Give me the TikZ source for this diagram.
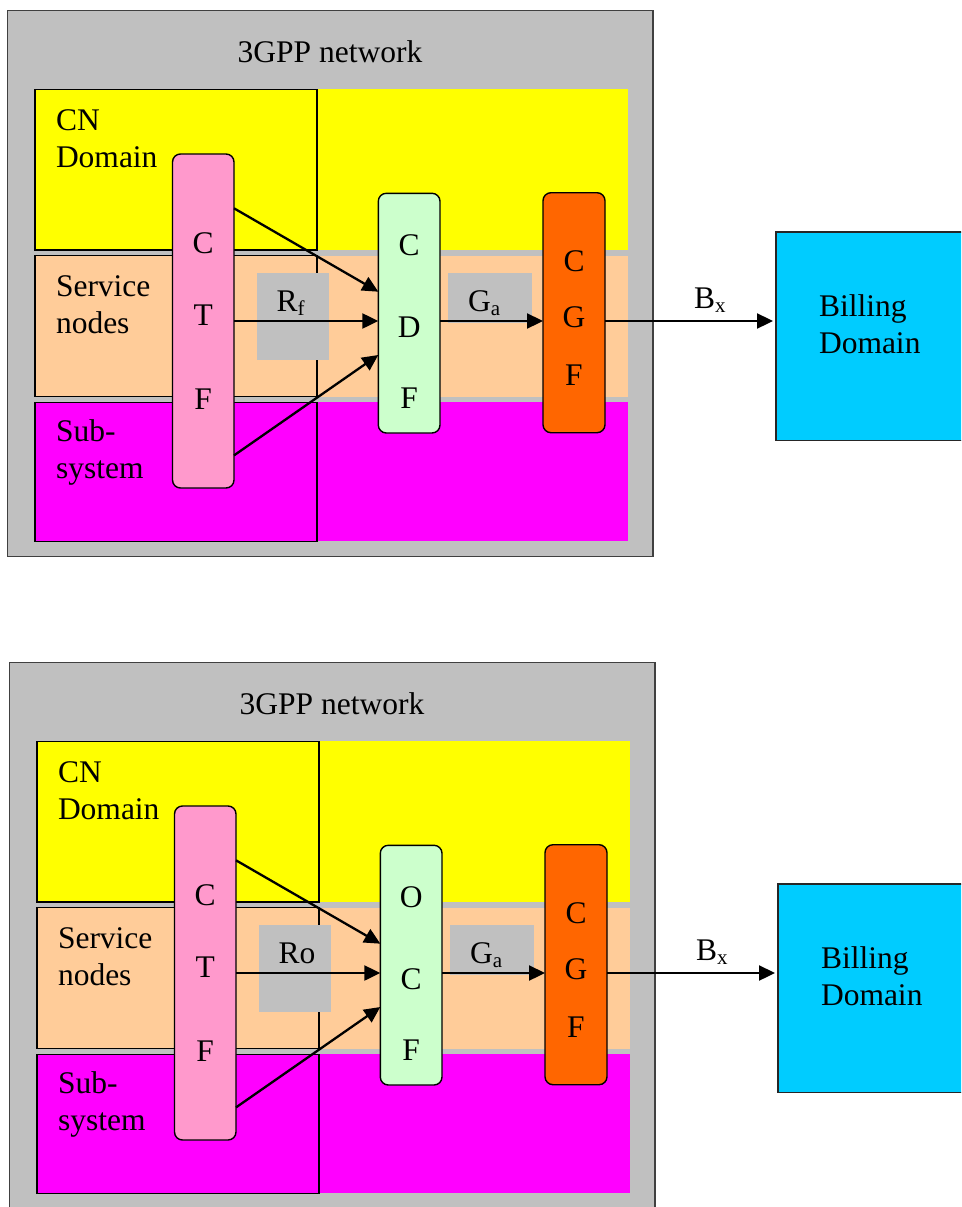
\documentclass[tikz,border=0pt]{standalone}
\usepackage{fontspec}
\setmainfont{Liberation Serif}
\usetikzlibrary{arrows.meta,calc}
\definecolor{netgray}{HTML}{C0C0C0}
\definecolor{cnyellow}{HTML}{FFFF00}
\definecolor{svcpeach}{HTML}{FFCC99}
\definecolor{submag}{HTML}{FF00FF}
\definecolor{ctfpink}{HTML}{FF99CC}
\definecolor{cdfgreen}{HTML}{CCFFCC}
\definecolor{cgforange}{HTML}{FF6600}
\definecolor{billcyan}{HTML}{00CCFF}
\newcommand\bigfont{\fontsize{31.5}{37}\selectfont}
\newcommand\subfont{\fontsize{21}{21}\selectfont}
\newcommand\subtxt[1]{\raisebox{-4pt}{\subfont #1}}
\tikzset{
  px/.style={x=1pt,y=-1pt},
  boxbase/.style={anchor=north west, inner sep=0pt, outer sep=0pt},
  netframe/.style={boxbase, fill=netgray, draw=black!75, line width=1.5pt},
  domainbox/.style={boxbase, draw=black, line width=1.4pt},
  funcbox/.style={boxbase, draw=black, line width=1.4pt, rounded corners=8pt, fill=#1},
  ifbox/.style={boxbase, fill=netgray},
  billbox/.style={boxbase, fill=billcyan, draw=black!85, line width=1.4pt},
  lbl/.style={font=\bigfont, anchor=base, inner sep=0pt, outer sep=0pt},
  lblw/.style={lbl, anchor=base west},
  arr/.style={-{Triangle[length=16pt,width=15pt]}, line width=2.3pt},
}
% #1 prefix, #2 shift, #3 R label, #4 #5 #6 middle letters
\newcommand\netdiagram[6]{%
\begin{scope}[shift={#2}]
  \node[netframe, minimum width=645.4pt, minimum height=545.7pt] (#1net) at (7.6,10.7) {};
  \node[lbl] (#1title) at (330,62.5) {3GPP network};
  \fill[cnyellow] (35,89.3) rectangle (628,250);
  \fill[svcpeach] (35,255.7) rectangle (628,396.7);
  \fill[submag] (35,402.3) rectangle (628,541.4);
  \node[domainbox, minimum width=282pt, minimum height=160.7pt] (#1cn) at (35,89.3) {};
  \node[domainbox, minimum width=282pt, minimum height=141pt] (#1svc) at (35,255.7) {};
  \node[domainbox, minimum width=282pt, minimum height=139.1pt] (#1sub) at (35,402.3) {};
  \node[lblw] (#1cnA) at (56,130) {CN};
  \node[lblw] (#1cnB) at (56,167) {Domain};
  \node[lblw] (#1svA) at (56,296.8) {Service};
  \node[lblw] (#1svB) at (56,333.3) {nodes};
  \node[lblw] (#1sbA) at (56,441.5) {Sub-};
  \node[lblw] (#1sbB) at (56,478.5) {system};
  \node[ifbox, minimum width=72pt, minimum height=86.7pt] (#1rbox) at (257,273.3) {};
  \node[ifbox, minimum width=84pt, minimum height=50pt] (#1gbox) at (448,273.3) {};
  \node[lblw] (#1rlbl) at (276.7,311.7) {#3};
  \node[lblw] (#1glbl) at (468,311.7) {G\subtxt{a}};
  \node[funcbox=ctfpink, minimum width=61.5pt, minimum height=334pt] (#1ctf) at (172.5,154) {};
  \node[funcbox=cdfgreen, minimum width=61.7pt, minimum height=239.7pt] (#1mid) at (378.3,193.3) {};
  \node[funcbox=cgforange, minimum width=62pt, minimum height=240pt] (#1cgf) at (543,192.7) {};
  \node[lbl] (#1ctfA) at ($(#1ctf.north)+(0,99.5)$) {C};
  \node[lbl] (#1ctfB) at ($(#1ctf.north)+(0,171.5)$) {T};
  \node[lbl] (#1ctfC) at ($(#1ctf.north)+(0,255)$) {F};
  \node[lbl] (#1midA) at ($(#1mid.north)+(0,62.5)$) {#4};
  \node[lbl] (#1midB) at ($(#1mid.north)+(0,144.5)$) {#5};
  \node[lbl] (#1midC) at ($(#1mid.north)+(0,215.5)$) {#6};
  \node[lbl] (#1cgfA) at ($(#1cgf.north)+(0,79)$) {C};
  \node[lbl] (#1cgfB) at ($(#1cgf.north)+(0,135)$) {G};
  \node[lbl] (#1cgfC) at ($(#1cgf.north)+(0,192.5)$) {F};
  \node[billbox, minimum width=200pt, minimum height=208.7pt] (#1bill) at (776,232) {};
  \node[lblw] (#1billA) at (819,316.7) {Billing};
  \node[lblw] (#1billB) at (819,353.3) {Domain};
  \node[lblw] (#1bxlbl) at (694,308) {B\subtxt{x}};
  \coordinate (#1s1) at ($(#1ctf.north east)+(0,54.3)$);
  \coordinate (#1s3) at ($(#1ctf.north east)+(0,301.4)$);
  \coordinate (#1e1) at ($(#1mid.north west)+(0,98.4)$);
  \coordinate (#1e3) at ($(#1mid.north west)+(0,161.7)$);
  \draw[arr] (#1s1) -- (#1e1);
  \draw[arr] (#1ctf.east) -- (#1ctf.east -| #1mid.west);
  \draw[arr] (#1s3) -- (#1e3);
  \draw[arr] (#1ctf.east -| #1mid.east) -- (#1ctf.east -| #1cgf.west);
  \draw[arr, shorten >=3pt] (#1ctf.east -| #1cgf.east) -- (#1ctf.east -| #1bill.west);
\end{scope}}
\begin{document}
\begin{tikzpicture}[px]
  \useasboundingbox (0,0) rectangle (961,1207);
  \clip (0,0) rectangle (961,1207);
  \fill[white] (0,0) rectangle (961,1207);
  \netdiagram{t}{(0,0)}{R\subtxt{f}}{C}{D}{F}
  \netdiagram{b}{(2,652)}{Ro}{O}{C}{F}
\end{tikzpicture}
\end{document}
